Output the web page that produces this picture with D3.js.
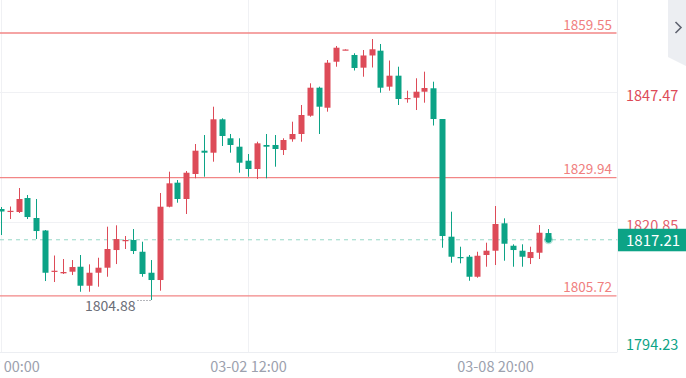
<!DOCTYPE html>
<html>
<head>
<meta charset="utf-8">
<script src="https://cdn.jsdelivr.net/npm/d3@7"></script>
<style>
  html, body { margin: 0; padding: 0; background: #fff; }
  svg { display: block; font-family: "Noto Sans CJK SC", "Noto Sans", sans-serif; }
</style>
</head>
<body>
<div id="chart"></div>
<script>
// candles: [open, high, low, close]
var opens  = [1823.51,1823.00,1822.90,1825.76,1821.67,1819.11,1810.75,1810.34,1810.67,1811.69,1807.80,1810.46,1811.49,1815.11,1816.95,1817.16,1814.76,1810.46,1808.97,1823.98,1828.90,1825.56,1830.68,1835.45,1835.04,1841.88,1837.99,1836.27,1833.40,1831.70,1836.62,1836.62,1835.59,1837.79,1838.87,1842.62,1848.35,1844.25,1853.67,1856.07,1855.05,1852.45,1854.95,1855.93,1848.56,1850.81,1846.14,1846.30,1847.53,1848.23,1841.94,1817.84,1813.68,1813.74,1809.64,1814.09,1814.97,1820.58,1815.99,1814.97,1813.47,1814.56,1818.59];
var highs  = [1823.92,1824.02,1827.81,1826.38,1825.56,1819.21,1813.99,1813.27,1813.06,1814.09,1812.18,1813.53,1819.89,1820.17,1817.98,1819.41,1816.81,1813.06,1826.79,1831.15,1829.45,1831.29,1836.82,1838.66,1844.46,1842.08,1838.87,1837.99,1834.77,1837.29,1838.87,1838.66,1837.99,1841.39,1844.81,1849.25,1848.56,1854.02,1856.89,1856.21,1855.40,1856.07,1858.32,1857.30,1853.92,1852.65,1847.74,1850.28,1851.63,1849.58,1841.94,1822.96,1815.79,1814.09,1814.76,1816.61,1824.12,1821.60,1816.28,1816.28,1815.79,1820.23,1819.41];
var lows   = [1818.18,1821.46,1822.69,1821.46,1817.36,1808.76,1808.56,1810.20,1809.99,1806.57,1806.57,1807.60,1809.64,1812.24,1815.32,1814.29,1809.64,1804.88,1806.78,1823.86,1824.80,1822.49,1829.80,1830.12,1833.20,1836.41,1835.04,1830.94,1830.12,1829.65,1829.80,1832.17,1834.57,1837.29,1837.29,1842.41,1838.87,1843.44,1852.65,1856.03,1851.87,1850.60,1852.49,1847.33,1847.74,1844.81,1845.28,1843.78,1845.28,1840.61,1815.58,1812.51,1812.39,1808.82,1809.44,1811.69,1812.04,1812.92,1811.69,1811.69,1812.24,1813.27,1816.95];
var closes = [1823.00,1823.14,1825.56,1821.87,1819.00,1810.46,1810.87,1810.61,1811.63,1807.80,1810.46,1811.49,1815.32,1817.36,1817.16,1814.91,1810.20,1808.97,1823.98,1828.77,1825.56,1830.94,1835.45,1835.04,1841.88,1838.46,1836.62,1832.99,1831.70,1836.96,1836.27,1835.80,1837.64,1838.87,1842.76,1848.35,1844.46,1853.47,1856.54,1856.17,1852.39,1854.95,1856.22,1848.35,1850.81,1846.04,1846.24,1847.53,1848.29,1841.94,1817.98,1813.74,1813.53,1809.64,1813.94,1814.97,1820.44,1816.40,1815.11,1813.74,1814.70,1818.65,1817.21];

var timeTicks = [0, 28, 56];
var timeLabels = ["02-27 00:00", "03-02 12:00", "03-08 20:00"];
var priceTicks = [1847.47, 1820.85, 1794.23];
var levels = [1859.55, 1829.94, 1805.72];
var lastPrice = 1817.21;
var lowPrice = 1804.88, lowIndex = 17;

var red = "#dd4b58", green = "#0ca386", lineRed = "#f28686";
var W = 686, H = 378, plotRight = 617.5, plotBottom = 352;

var svg = d3.select("#chart").append("svg")
  .attr("width", W)
  .attr("height", H);

var x = d3.scaleLinear().domain([0, opens.length - 1]).range([1, 548]);
var y = d3.scaleLinear().domain([1794.23, 1847.47]).range([plotBottom, 92]);

// grid
svg.append("g").selectAll("line.v")
  .data(timeTicks).enter().append("line")
  .attr("x1", d => Math.round(x(d)) + 0.5).attr("x2", d => Math.round(x(d)) + 0.5)
  .attr("y1", 0).attr("y2", plotBottom)
  .attr("stroke", "#f0f1f4");
svg.append("g").selectAll("line.h")
  .data(priceTicks.slice(0, 2)).enter().append("line")
  .attr("x1", 0).attr("x2", plotRight)
  .attr("y1", d => Math.round(y(d)) + 0.5).attr("y2", d => Math.round(y(d)) + 0.5)
  .attr("stroke", "#f0f1f4");

// axis borders
svg.append("line").attr("x1", 0).attr("x2", plotRight).attr("y1", plotBottom + 0.5).attr("y2", plotBottom + 0.5).attr("stroke", "#eceef2");
svg.append("line").attr("x1", plotRight).attr("x2", plotRight).attr("y1", 0).attr("y2", plotBottom).attr("stroke", "#eceef2");

// level lines
var lv = svg.append("g");
lv.selectAll("line").data(levels).enter().append("line")
  .attr("x1", 0).attr("x2", plotRight - 1)
  .attr("y1", d => y(d)).attr("y2", d => y(d))
  .attr("stroke", lineRed).attr("stroke-width", 1.3);
lv.selectAll("text").data(levels).enter().append("text")
  .attr("x", 612).attr("y", d => y(d) - 3.5)
  .attr("text-anchor", "end")
  .attr("font-size", 13.5)
  .attr("fill", "#f08080")
  .text(d => d.toFixed(2));

// last price dashed line
svg.append("line")
  .attr("x1", 0).attr("x2", plotRight)
  .attr("y1", y(lastPrice)).attr("y2", y(lastPrice))
  .attr("stroke", "#96d8c8").attr("stroke-dasharray", "4,4");

// candles
var idx = d3.range(opens.length);
var cg = svg.append("g");
var col = i => closes[i] >= opens[i] ? red : green;
cg.selectAll("line").data(idx).enter().append("line")
  .attr("x1", i => Math.round(x(i)) + 0.5).attr("x2", i => Math.round(x(i)) + 0.5)
  .attr("y1", i => y(highs[i])).attr("y2", i => y(lows[i]))
  .attr("stroke", col);
cg.selectAll("rect").data(idx).enter().append("rect")
  .attr("x", i => Math.round(x(i)) - 2.5)
  .attr("width", 6)
  .attr("y", i => y(Math.max(opens[i], closes[i])))
  .attr("height", i => Math.max(1.2, Math.abs(y(opens[i]) - y(closes[i]))))
  .attr("fill", col);

// last point dot
var li = opens.length - 1;
svg.append("circle").attr("cx", x(li) + 0.5).attr("cy", y(lastPrice)).attr("r", 4.5).attr("fill", green).attr("opacity", 0.3);
svg.append("circle").attr("cx", x(li) + 0.5).attr("cy", y(lastPrice)).attr("r", 3).attr("fill", green);

// low marker
var lx = Math.round(x(lowIndex)) + 0.5;
svg.append("line")
  .attr("x1", lx - 14).attr("x2", lx)
  .attr("y1", y(lowPrice) + 0.5).attr("y2", y(lowPrice) + 0.5)
  .attr("stroke", "#6b6e78").attr("stroke-dasharray", "1,2");
svg.append("text")
  .attr("x", lx - 16).attr("y", y(lowPrice) + 11)
  .attr("text-anchor", "end")
  .attr("font-size", 14)
  .attr("fill", "#6b6e78")
  .text(lowPrice.toFixed(2));

// right price axis
var yAxis = svg.append("g")
  .attr("transform", "translate(626,0)")
  .call(d3.axisRight(y).tickValues(priceTicks).tickSize(0).tickPadding(0).tickFormat(d => d.toFixed(2)));
yAxis.select(".domain").remove();
yAxis.selectAll("text")
  .attr("font-size", 14.5)
  .attr("font-family", "'Noto Sans CJK SC', 'Noto Sans', sans-serif")
  .attr("dy", null)
  .attr("y", d => d === priceTicks[2] ? -3 : 8)
  .attr("fill", d => d === priceTicks[2] ? green : (d === priceTicks[0] ? red : "#e2606c"));

// current price box
svg.append("rect").attr("x", 618).attr("y", y(lastPrice) - 11).attr("width", 68).attr("height", 22.5).attr("fill", green);
svg.append("text")
  .attr("x", 626).attr("y", y(lastPrice) + 6)
  .attr("font-size", 15)
  .attr("fill", "#fff")
  .text(lastPrice.toFixed(2));

// time axis
var xAxis = svg.append("g")
  .attr("transform", "translate(0," + (plotBottom + 20) + ")")
  .call(d3.axisBottom(x).tickValues(timeTicks).tickSize(0).tickPadding(0).tickFormat((d, i) => timeLabels[i]));
xAxis.select(".domain").remove();
xAxis.selectAll("text")
  .attr("font-size", 14.5)
  .attr("font-family", "'Noto Sans CJK SC', 'Noto Sans', sans-serif")
  .attr("dy", null).attr("y", 0)
  .attr("fill", "#9ca1ae");

// collapse tab
svg.append("path").attr("d", "M668,0H686V66L668,57Z").attr("fill", "#eceef2");
svg.append("path").attr("d", "M675.5,22L681,27.5L675.5,33").attr("fill", "none").attr("stroke", "#5f6370").attr("stroke-width", 1.6);
</script>
</body>
</html>
